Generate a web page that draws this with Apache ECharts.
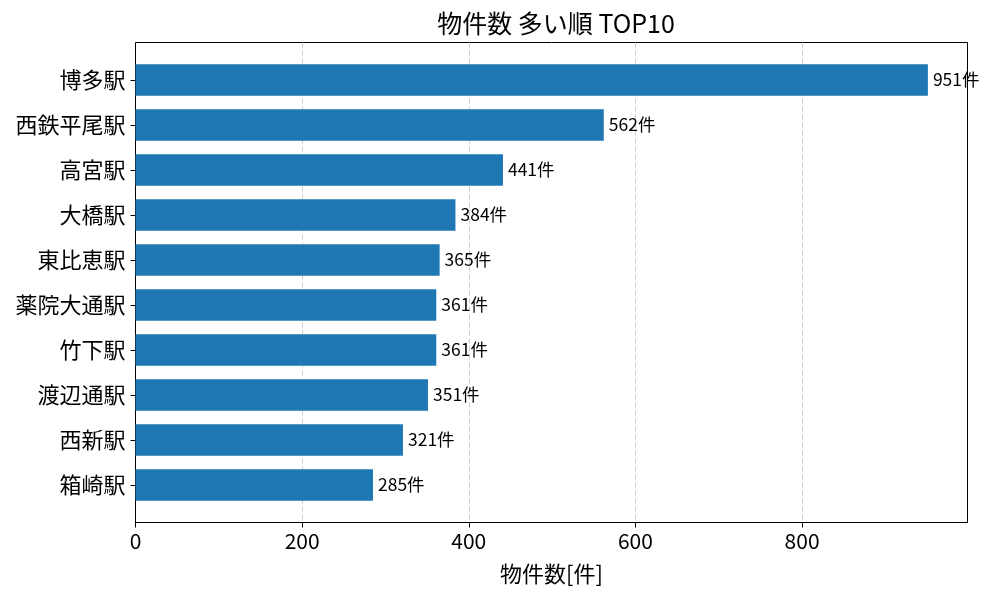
<!DOCTYPE html>
<html>
    <head>
        <meta charset="UTF-8">
        <title>物件数 多い順 TOP10</title>
        <script src="https://cdn.jsdelivr.net/npm/echarts@6/dist/echarts.min.js"></script>
        <style>
            html, body { margin: 0; padding: 0; background: #fff; }
        </style>
    </head>
    <body>
        <div id="main" style="width: 1000px;height:600px;"></div>

        <script type="text/javascript">
            // 駅名（上から順）
            let stations = ['博多駅', '西鉄平尾駅', '高宮駅', '大橋駅', '東比恵駅', '薬院大通駅', '竹下駅', '渡辺通駅', '西新駅', '箱崎駅'];
            let counts = [951, 562, 441, 384, 365, 361, 361, 351, 321, 285];
            let xTicks = [0, 200, 400, 600, 800];
            let xMax = 998.55;

            let font = '"Noto Sans CJK JP", "Noto Sans", sans-serif';

            let dom = document.getElementById("main");
            let myChart = echarts.init(dom);
            let option = {
                animation: false,
                title: {
                    text: '物件数 多い順 TOP10',
                    left: 551,
                    textAlign: 'center',
                    top: 6,
                    textStyle: { fontFamily: font, fontSize: 25, fontWeight: 'normal', color: '#000' }
                },
                // grid 0: 枠と目盛り, grid 1: 棒
                grid: [
                    { left: 135.5, right: 32.5, top: 42.5, bottom: 77.5, show: true, borderColor: '#000', borderWidth: 1, containLabel: false },
                    { left: 135.5, right: 32.5, top: 57.5, bottom: 92.5, containLabel: false }
                ],
                xAxis: [
                    {
                        gridIndex: 0, type: 'value', min: 0, max: xMax, interval: 200,
                        name: '物件数[件]', nameLocation: 'middle', nameGap: 40,
                        nameTextStyle: { fontFamily: font, fontSize: 22, color: '#000' },
                        axisLine: { show: true, lineStyle: { color: '#000' } },
                        axisTick: { show: true, length: 5, lineStyle: { color: '#000' } },
                        axisLabel: {
                            fontFamily: font, fontSize: 21, color: '#000', margin: 8,
                            showMaxLabel: false,
                            formatter: function (v) { return xTicks.indexOf(v) >= 0 ? String(v) : ''; }
                        },
                        splitLine: { show: true, showMinLine: false, showMaxLine: false, lineStyle: { color: '#cccccc', type: [5, 3], width: 1 } }
                    },
                    {
                        gridIndex: 1, type: 'value', min: 0, max: xMax,
                        show: false, splitLine: { show: false }
                    }
                ],
                yAxis: [
                    { gridIndex: 0, type: 'value', show: false, splitLine: { show: false } },
                    {
                        gridIndex: 1, type: 'category', data: stations, inverse: true,
                        axisLine: { show: false },
                        axisTick: { show: true, alignWithLabel: true, length: 5, lineStyle: { color: '#000' } },
                        axisLabel: { fontFamily: font, fontSize: 22, color: '#000', margin: 10 }
                    }
                ],
                series: [
                    {
                        type: 'bar',
                        xAxisIndex: 1,
                        yAxisIndex: 1,
                        data: counts,
                        barCategoryGap: '30%',
                        itemStyle: { color: '#1f77b4' },
                        label: {
                            show: true,
                            position: 'right',
                            distance: 5,
                            offset: [0, -1],
                            fontFamily: font,
                            fontSize: 17.5,
                            color: '#000',
                            formatter: function (p) { return p.value + '件'; }
                        }
                    }
                ]
            };
            myChart.setOption(option, true);
        </script>
    </body>
</html>
